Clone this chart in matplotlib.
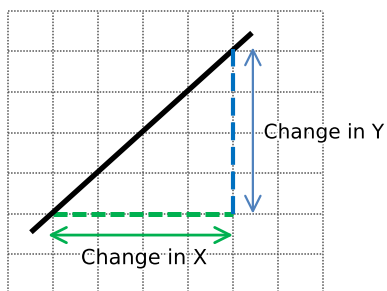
import matplotlib
matplotlib.use("Agg")
import matplotlib.pyplot as plt
import matplotlib.patheffects as pe

# DATA (grid units)
grid_x = [0, 1, 2, 3, 4, 5, 6, 7]
grid_y = [0, 1, 2, 3, 4, 5, 6]
line_x = [0.51, 5.42]
line_y = [0.54, 5.46]
run_x = [1.0, 5.0]
run_y = [1.0, 1.0]
rise_x = [5.0, 5.0]
rise_y = [1.0, 5.06]
arrow_x_start = (0.89, 0.47)
arrow_x_end = (5.0, 0.47)
arrow_y_start = (5.44, 1.0)
arrow_y_end = (5.44, 5.1)
label_x = "Change in X"
label_y = "Change in Y"

fig = plt.figure(figsize=(3.87, 2.91), dpi=100)
ax = fig.add_axes([0, 0, 1, 1])
ax.set_xlim(-0.178, 8.42)
ax.set_ylim(-0.91, 6.27)
ax.axis("off")

# dotted grid
for gx in grid_x:
    ax.plot([gx, gx], [-1, 6], color="#555555", lw=1.1, ls=(0, (1, 1)), zorder=1)
for gy in grid_y:
    ax.plot([0, 7], [gy, gy], color="#555555", lw=1.1, ls=(0, (1, 1)), zorder=1)

# main line
ax.plot(line_x, line_y, color="black", lw=3.8, solid_capstyle="butt", zorder=3)

# run / rise dashed lines
ax.plot(run_x, run_y, color="#00B050", lw=3.6, dashes=(2.8, 1.0), zorder=2)
ax.plot(rise_x, rise_y, color="#0070C0", lw=3.0, dashes=(4.3, 1.6), zorder=4)

# double arrows
ax.annotate("", xy=arrow_x_end, xytext=arrow_x_start,
            arrowprops=dict(arrowstyle="<->,head_length=1.0,head_width=0.5",
                            mutation_scale=11, lw=2.0, color="#00B050",
                            shrinkA=0, shrinkB=0), zorder=4)
ax.annotate("", xy=arrow_y_end, xytext=arrow_y_start,
            arrowprops=dict(arrowstyle="<->,head_length=1.0,head_width=0.5",
                            mutation_scale=11, lw=1.6, color="#4F81BD",
                            shrinkA=0, shrinkB=0), zorder=4)

halo = [pe.withStroke(linewidth=3, foreground="white")]
ax.text(3.02, -0.1, label_x, ha="center", va="center", fontsize=15,
        path_effects=halo, zorder=5)
ax.text(8.36, 2.99, label_y, ha="right", va="center", fontsize=14.5,
        path_effects=halo, zorder=5)

fig.savefig("out.png", dpi=100)
